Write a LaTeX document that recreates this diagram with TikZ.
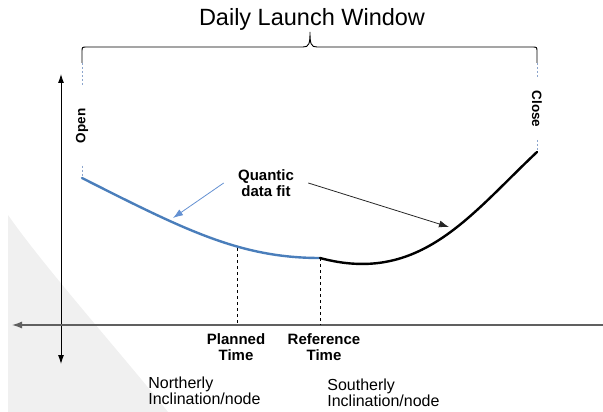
\documentclass[tikz,border=0pt]{standalone}
\usepackage{fontspec}
\setmainfont{Liberation Sans}
\usepackage{tikz}
\usetikzlibrary{shapes,arrows,arrows.meta,positioning,calc}
\definecolor{fitblue}{RGB}{74,126,187}
\definecolor{pointblue}{RGB}{100,145,210}
\definecolor{dotblue}{RGB}{140,165,205}
\definecolor{bgshade}{RGB}{240,240,240}

\begin{document}
\begin{tikzpicture}[x=1pt, y=-1pt, thick,
        tag/.style={font=\fontsize{15}{16}\selectfont\bfseries, align=center, inner sep=0pt},
        sidetext/.style={font=\fontsize{16}{16}\selectfont, align=left, anchor=north west, inner sep=0pt},
        windline/.style={draw=dotblue, line width=0.8pt, dash pattern=on 2pt off 2pt},
        fitline/.style={line width=2.4pt, line cap=round},
        pointer/.style={line width=0.8pt, -{Latex[length=10pt,width=7pt]}}]
        \useasboundingbox (0,0) rectangle (603,412);
        \fill [bgshade] (8,215) .. controls (45,268) and (120,352) .. (168,412) -- (8,412) -- cycle;

        % axes
        \coordinate (ytop) at (61,74);
        \coordinate (ybot) at (61,364);
        \coordinate (xright) at (603,325);
        \coordinate (xleft) at (12,325);
        \path [draw, line width=0.9pt, {Latex[length=9pt,width=6pt]}-{Latex[length=9pt,width=6pt]}] (ytop) -- (ybot);
        \path [draw, line width=1.3pt, gray!75!black, -{Latex[length=10pt,width=7pt]}] (xright) -- (xleft);

        % launch window
        \node [font=\fontsize{23.5}{26}\selectfont] (title) at (312,19) {Daily Launch Window};
        \coordinate (otop) at (82,63);
        \coordinate (ctop) at (537,63);
        \draw [line width=0.9pt] (otop) -- (82,52) .. controls (82,47) .. (87,47) -- (303,47)
            .. controls (309,47) and (310,44) .. (310,32) .. controls (310,44) and (311,47) .. (317,47)
            -- (532,47) .. controls (537,47) .. (537,52) -- (ctop);
        \node [tag, font=\fontsize{13.5}{15}\selectfont\bfseries, rotate=90, inner xsep=22pt] (open) at (82,126) {Open};
        \node [tag, font=\fontsize{13.5}{15}\selectfont\bfseries, rotate=-90, inner xsep=12pt] (close) at (537,109) {Close};

        % fitted curve
        \coordinate (start) at (82,178);
        \coordinate (planned) at (237,248);
        \coordinate (reference) at (320,258);
        \coordinate (finish) at (537,152);
        \path [windline] (otop) -- (open);
        \path [windline] (open) -- (start);
        \path [windline] (ctop) -- (close);
        \path [windline] (close) -- (finish);
        \draw [fitline, fitblue] (start) .. controls (185,230) and (240,258) .. (reference);
        \draw [fitline, black] (reference) .. controls (420,285) and (470,215) .. (finish);
        \draw [thin, dash pattern=on 3pt off 3pt] (planned) -- (planned |- xleft);
        \draw [thin, dash pattern=on 3pt off 3pt] (reference) -- (reference |- xleft);

        \node [tag, inner xsep=14pt] (quantic) at (266,183) {Quantic\\data fit};
        \coordinate (bluetip) at (173,218);
        \coordinate (blacktip) at (449,227);
        \path [draw, pointer, pointblue] (quantic.west) -- (bluetip);
        \path [draw, pointer, black!85] (quantic.east) -- (blacktip);

        % labels
        \node [tag] (plannedlbl) at (236,347) {Planned\\Time};
        \node [tag] (referencelbl) at (324,347) {Reference\\Time};
        \node [sidetext] (north) at (148,377) {Northerly\\Inclination/node};
        \node [sidetext] (south) at (327,379) {Southerly\\Inclination/node};
    \end{tikzpicture}
\end{document}
